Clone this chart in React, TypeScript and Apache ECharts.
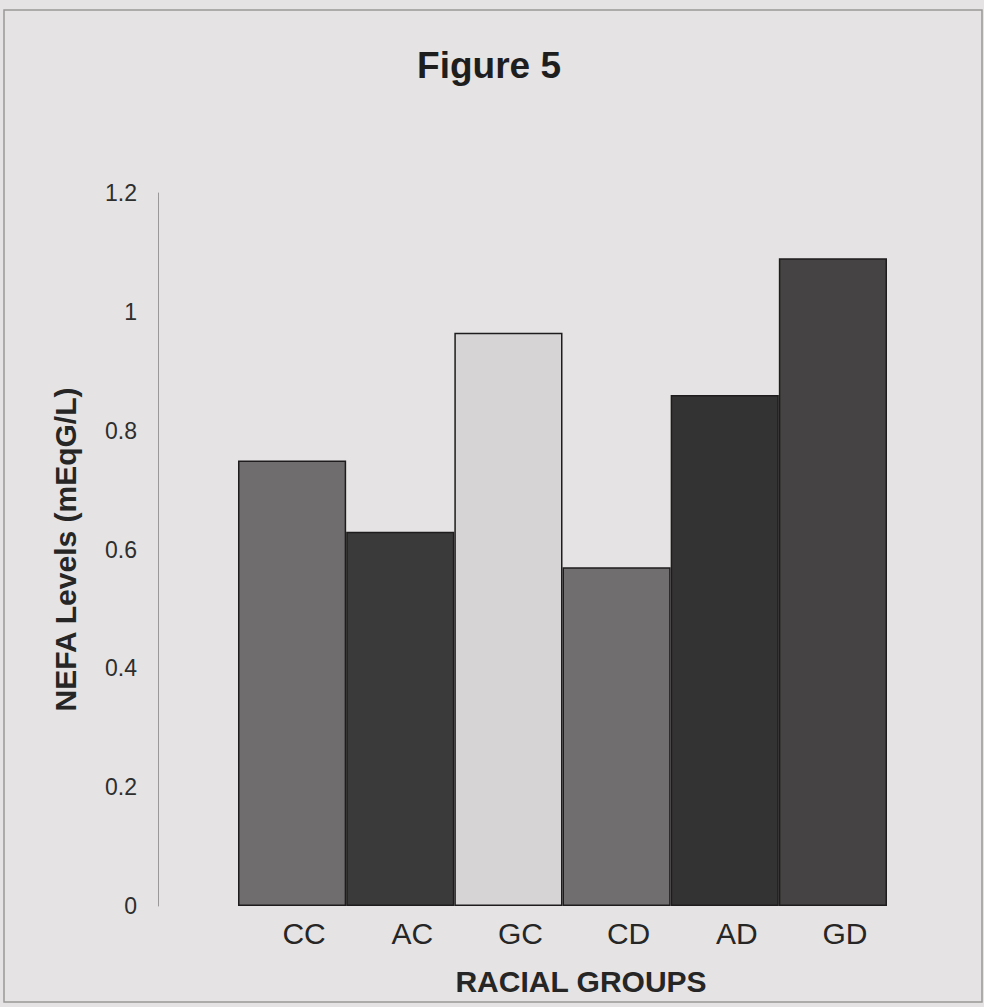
import React, { useEffect, useRef } from "react";
import * as echarts from "echarts";

const categories = ["CC", "AC", "GC", "CD", "AD", "GD"];
const values = [0.75, 0.63, 0.965, 0.57, 0.86, 1.09];
const barColors = ["#6f6d6d", "#3b3a3a", "#d6d4d4", "#706e6e", "#343333", "#454343"];
const yTicks = { min: 0, max: 1.2, interval: 0.2 };

export default function App() {
  const ref = useRef<HTMLDivElement>(null);
  useEffect(() => {
    if (!ref.current) return;
    const chart = echarts.init(ref.current, null, { renderer: "svg" });
    const font = "'Liberation Sans', Arial, sans-serif";
    chart.setOption({
      animation: false,
      backgroundColor: "#e5e3e3",
      title: {
        text: "Figure 5",
        left: 484,
        top: 42,
        textAlign: "center",
        textStyle: { fontFamily: font, fontWeight: "bold", fontSize: 37, color: "#1e1e1e" },
      },
      graphic: [
        {
          type: "rect",
          shape: { x: 4, y: 10, width: 978, height: 992 },
          style: { fill: "none", stroke: "#9a9898", lineWidth: 1.5 },
          silent: true,
        },
      ],
      grid: { left: 238, right: 97, top: 193, bottom: 101 },
      xAxis: {
        type: "category",
        data: categories,
        axisLine: { show: false },
        axisTick: { show: false },
        axisLabel: {
          fontFamily: font,
          fontSize: 30,
          color: "#262626",
          margin: 12,
          padding: [0, 0, 0, 24],
        },
        name: "RACIAL GROUPS",
        nameLocation: "middle",
        nameGap: 60,
        nameTextStyle: {
          fontFamily: font,
          fontWeight: "bold",
          fontSize: 30,
          color: "#262626",
          padding: [0, 0, 0, 37],
        },
      },
      yAxis: {
        type: "value",
        min: yTicks.min,
        max: yTicks.max,
        interval: yTicks.interval,
        offset: 80,
        axisLine: { show: true, lineStyle: { color: "#9a9898", width: 1 } },
        axisTick: { show: false },
        splitLine: { show: false },
        axisLabel: {
          fontFamily: font,
          fontSize: 23,
          color: "#2e2e2e",
          margin: 21,
          formatter: (v: number) => String(Math.round(v * 10) / 10),
        },
        name: "NEFA Levels (mEqG/L)",
        nameLocation: "middle",
        nameGap: 78,
        nameTextStyle: { fontFamily: font, fontWeight: "bold", fontSize: 30, color: "#262626" },
      },
      series: [
        {
          type: "bar",
          barWidth: "100%",
          data: values.map((v, i) => ({
            value: v,
            itemStyle: { color: barColors[i], borderColor: "#1e1c1c", borderWidth: 1.5 },
          })),
        },
      ],
    });
    return () => chart.dispose();
  }, []);
  return (
    <div
      ref={ref}
      style={{ position: "fixed", left: 0, top: 0, width: 984, height: 1007 }}
    />
  );
}
